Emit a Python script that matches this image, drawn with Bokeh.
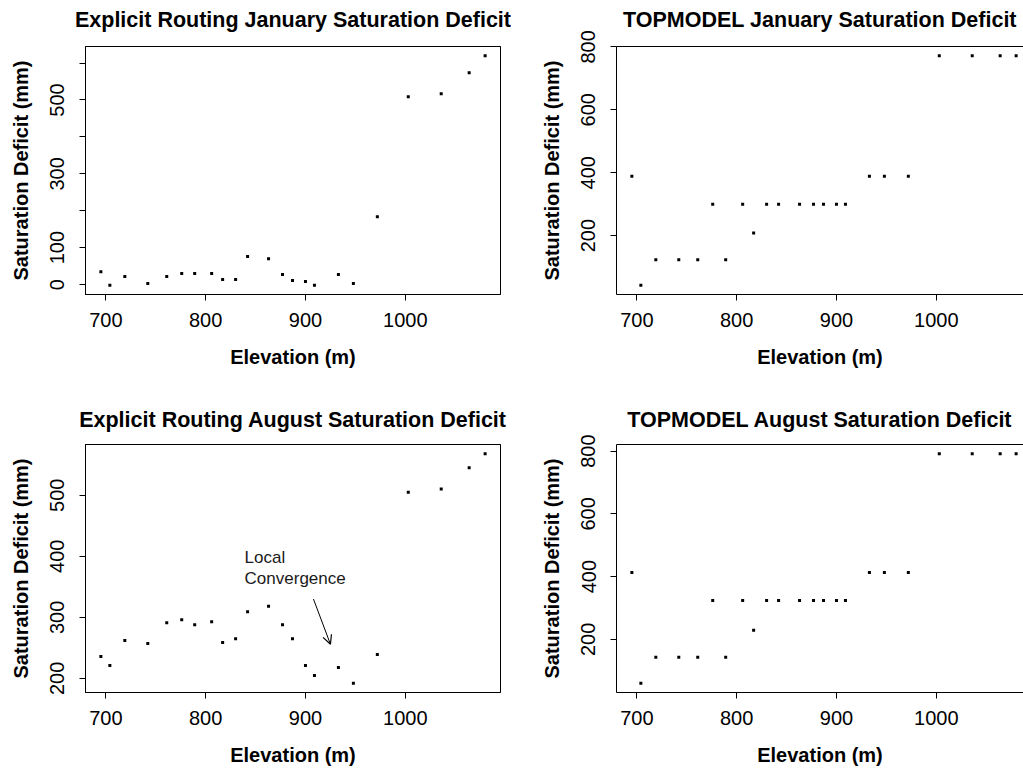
from bokeh.plotting import figure
from bokeh.layouts import column, row
from bokeh.models import FixedTicker, Range1d, Arrow, OpenHead, LinearAxis
from bokeh.embed import file_html
from bokeh.resources import INLINE
from bokeh.core.properties import value

FONT = "Liberation Sans"

# ---- data ----
elevation = [695, 704, 719, 742, 761, 776, 789, 806, 817, 830, 842, 863,
             877, 887, 900, 909, 933, 948, 972, 1003, 1036, 1064, 1080]
explicit_jan = [35, -2, 22, 3, 22, 30, 30, 30, 14, 14, 76, 70,
                27, 11, 8, -2, 27, 3, 184, 509, 517, 574, 620]
topmodel_jan = [389, 42, 123, 123, 123, 300, 123, 300, 208, 300, 300, 300,
                300, 300, 300, 300, 389, 389, 389, 772, 772, 772, 772]
explicit_aug = [236, 221, 262, 257, 291, 296, 288, 293, 259, 265, 309, 318,
                288, 265, 221, 205, 218, 192, 239, 505, 510, 545, 568]
topmodel_aug = [413, 60, 143, 143, 143, 324, 143, 324, 229, 324, 324, 324,
                324, 324, 324, 324, 413, 413, 413, 792, 792, 792, 792]

x_ticks = [700, 800, 900, 1000]
y_ticks_explicit_jan = [0, 100, 200, 300, 400, 500, 600]
y_labels_explicit_jan = {0: "0", 100: "100", 200: "", 300: "300", 400: "", 500: "500", 600: ""}
y_ticks_topmodel = [200, 400, 600, 800]
y_ticks_explicit_aug = [200, 300, 400, 500]

annotation_lines = ["Local", "Convergence"]
annotation_x = [839, 839]
annotation_y = [398, 364]
arrow_from = (908, 330)
arrow_to = (925, 256)

titles = ["Explicit Routing January Saturation Deficit",
          "TOPMODEL January Saturation Deficit",
          "Explicit Routing August Saturation Deficit",
          "TOPMODEL August Saturation Deficit"]
x_label = "Elevation (m)"
y_label = "Saturation Deficit (mm)"


def padded(vals):
    lo, hi = min(vals), max(vals)
    s = hi - lo
    return lo - 0.04 * s, hi + 0.04 * s


FULL_FRAME_W = 415


def make_fig(title, ys, yticks, yoverrides, width, mleft, mright, height, mtop, mbottom,
             clipped, title_gap):
    frame_w = width - mleft - mright
    x0, x1 = padded(elevation)
    if clipped:
        x1 = x0 + (x1 - x0) * frame_w / FULL_FRAME_W
    y0, y1 = padded(ys)
    p = figure(width=width, height=height, output_backend="svg", toolbar_location=None,
               x_range=Range1d(x0, x1), y_range=Range1d(y0, y1),
               min_border_left=mleft, min_border_right=mright,
               min_border_top=mtop, min_border_bottom=mbottom,
               background_fill_color="white", border_fill_color="white")
    p.grid.visible = False
    if clipped:
        p.outline_line_color = None
    else:
        p.outline_line_color = "black"
        p.outline_line_width = 1
        p.outline_line_alpha = 1

    for ax in (p.xaxis[0], p.yaxis[0]):
        ax.major_tick_out = 6
        ax.major_tick_in = 0
        ax.minor_tick_line_color = None
        ax.major_tick_line_color = "black"
        ax.axis_line_color = "black"
        ax.major_label_text_font = FONT
        ax.major_label_text_font_size = "20px"
        ax.major_label_text_color = "black"
        ax.axis_label_text_font = FONT
        ax.axis_label_text_font_size = "20px"
        ax.axis_label_text_font_style = "bold"
        ax.axis_label_text_color = "black"

    p.xaxis.ticker = FixedTicker(ticks=x_ticks)
    p.xaxis.axis_label = x_label
    p.xaxis.major_label_standoff = 12
    p.xaxis.axis_label_standoff = 16

    p.yaxis.ticker = FixedTicker(ticks=yticks)
    if yoverrides:
        p.yaxis.major_label_overrides = yoverrides
    p.yaxis.major_label_orientation = "vertical"
    p.yaxis.axis_label = y_label
    p.yaxis.major_label_standoff = 15
    p.yaxis.axis_label_standoff = 16

    # top edge of the box + the panel title
    top = LinearAxis(ticker=FixedTicker(ticks=[]), axis_label=title,
                     axis_line_color="black", major_tick_out=0, major_tick_in=0,
                     major_tick_line_color=None, minor_tick_line_color=None,
                     major_label_standoff=0, major_label_text_font_size="1px",
                     axis_label_standoff=title_gap,
                     axis_label_text_font=FONT, axis_label_text_font_size="21.5px",
                     axis_label_text_font_style="bold", axis_label_text_color="black")
    p.add_layout(top, "above")

    p.scatter(elevation, ys, marker="square", size=3, fill_color="black", line_color=None)
    return p


p1 = make_fig(titles[0], explicit_jan, y_ticks_explicit_jan, y_labels_explicit_jan,
              511, 85, 11, 385, 46, 91, False, 15)
p2 = make_fig(titles[1], topmodel_jan, y_ticks_topmodel, None,
              512, 105, 0, 385, 46, 91, True, 15)
p3 = make_fig(titles[2], explicit_aug, y_ticks_explicit_aug, None,
              511, 85, 11, 384, 59, 77, False, 13)
p4 = make_fig(titles[3], topmodel_aug, y_ticks_topmodel, None,
              512, 105, 0, 384, 59, 77, True, 13)

p3.text(x=annotation_x, y=annotation_y, text=annotation_lines,
        text_font=value(FONT), text_font_size=value("17px"),
        text_color="#1a1a1a", text_baseline="alphabetic", text_align="left")
p3.add_layout(Arrow(end=OpenHead(size=9, line_width=1.2, line_color="black"),
                    x_start=arrow_from[0], y_start=arrow_from[1],
                    x_end=arrow_to[0], y_end=arrow_to[1],
                    line_color="black", line_width=1))

layout = column(row(p1, p2), row(p3, p4))
open("out.html", "w").write(file_html(layout, INLINE))
